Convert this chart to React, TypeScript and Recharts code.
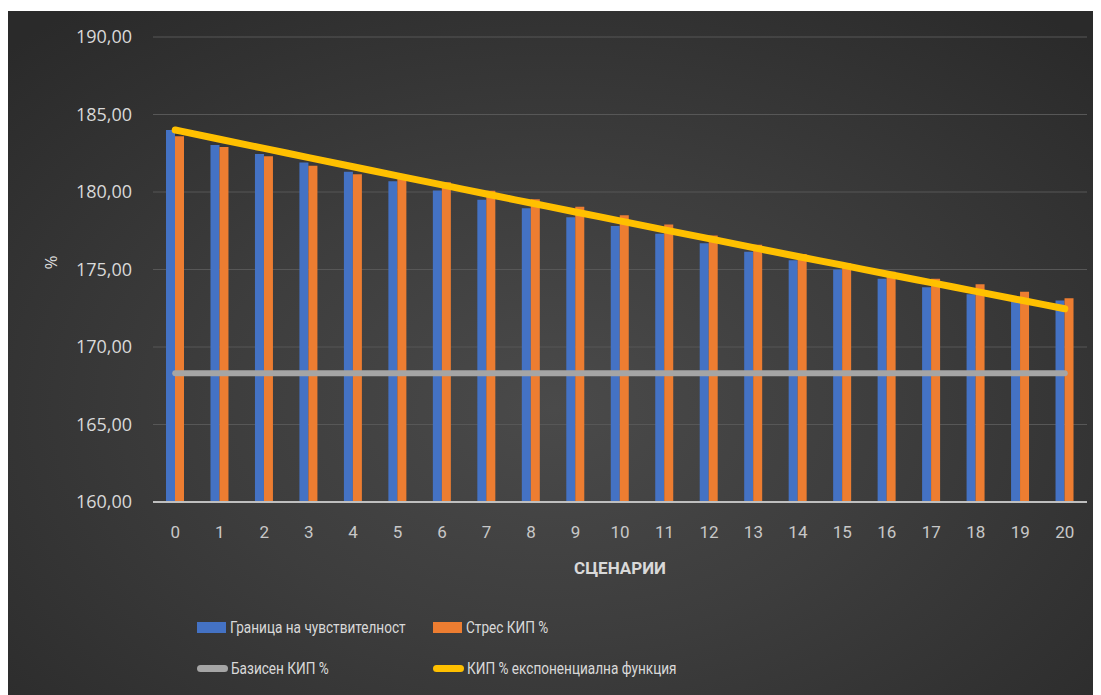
import { Bar, CartesianGrid, ComposedChart, Line, XAxis, YAxis } from "recharts";

const scenarios = [
  "0", "1", "2", "3", "4", "5", "6", "7", "8", "9", "10",
  "11", "12", "13", "14", "15", "16", "17", "18", "19", "20",
];

const sensitivity = [
  184.0, 183.03, 182.45, 181.9, 181.3, 180.7, 180.1, 179.5, 178.95, 178.37, 177.8,
  177.3, 176.7, 176.15, 175.6, 175.0, 174.4, 173.85, 173.4, 172.9, 173.0,
];

const stress = [
  183.6, 182.9, 182.3, 181.7, 181.15, 180.9, 180.63, 180.08, 179.53, 179.05, 178.5,
  177.9, 177.2, 176.6, 176.0, 175.4, 174.86, 174.4, 174.05, 173.57, 173.14,
];

const base = [
  168.3, 168.3, 168.3, 168.3, 168.3, 168.3, 168.3, 168.3, 168.3, 168.3, 168.3,
  168.3, 168.3, 168.3, 168.3, 168.3, 168.3, 168.3, 168.3, 168.3, 168.3,
];

const expFit = [
  184.0, 183.4, 182.81, 182.22, 181.63, 181.04, 180.46, 179.87, 179.29, 178.71, 178.14,
  177.56, 176.99, 176.41, 175.84, 175.28, 174.71, 174.15, 173.59, 173.03, 172.47,
];

const yTicks = [160, 165, 170, 175, 180, 185, 190];

const names = {
  sensitivity: "Граница на чувствителност",
  stress: "Стрес КИП %",
  base: "Базисен КИП %",
  expFit: "КИП % експоненциална функция",
};

const colors = {
  sensitivity: "#4472C4",
  stress: "#ED7D31",
  base: "#A5A5A5",
  expFit: "#FFC000",
};

const data = scenarios.map((s, i) => ({
  name: s,
  sensitivity: sensitivity[i],
  stress: stress[i],
  base: base[i],
  expFit: expFit[i],
}));

const font = "'Open Sans', sans-serif";
const roboto = "Roboto, sans-serif";

function LegendItem({ kind, color, label }: { kind: "bar" | "line"; color: string; label: string }) {
  return (
    <div style={{ display: "flex", alignItems: "center" }}>
      {kind === "bar" ? (
        <div style={{ width: 29, height: 11, background: color, marginRight: 4 }} />
      ) : (
        <div style={{ width: 31, height: 7, borderRadius: 4, background: color, marginRight: 3 }} />
      )}
      {/* Excel uses Calibri here, squeeze Roboto a bit to get close */}
      <span
        style={{
          display: "inline-block",
          color: "#d9d9d9",
          fontSize: 17,
          fontFamily: roboto,
          whiteSpace: "nowrap",
          transform: "scaleX(0.8)",
          transformOrigin: "left center",
        }}
      >
        {label}
      </span>
    </div>
  );
}

export default function App() {
  return (
    <div
      style={{
        position: "relative",
        width: 1093,
        height: 684,
        marginTop: 3,
        background:
          "radial-gradient(ellipse 70% 75% at 50% 58%, #4a4a4a 0%, #3d3d3d 45%, #2a2a2a 100%)",
      }}
    >
      <ComposedChart
        width={1093}
        height={684}
        data={data}
        margin={{ top: 26, right: 14, left: 0, bottom: 113 }}
        barGap={0}
      >
        <CartesianGrid vertical={false} stroke="#575757" strokeWidth={1} />
        <XAxis
          dataKey="name"
          height={80}
          tickLine={false}
          tickSize={0}
          tickMargin={24}
          axisLine={{ stroke: "#bfbfbf", strokeWidth: 2 }}
          tick={{ fill: "#c8c8c8", fontSize: 17, fontFamily: roboto }}
          interval={0}
          label={{
            value: "СЦЕНАРИИ",
            position: "insideTop",
            offset: 60,
            fill: "#d9d9d9",
            fontSize: 17,
            fontWeight: 700,
            fontFamily: roboto,
          }}
        />
        <YAxis
          width={145}
          domain={[160, 190]}
          ticks={yTicks}
          tickLine={false}
          tickSize={0}
          tickMargin={21}
          axisLine={false}
          tick={{ fill: "#d9d9d9", fontSize: 18, fontFamily: font }}
          tickFormatter={(v: number) => v.toFixed(2).replace(".", ",")}
          label={{
            value: "%",
            angle: -90,
            position: "insideLeft",
            offset: 43,
            fill: "#d9d9d9",
            fontSize: 17,
            fontFamily: font,
          }}
        />
        <Bar dataKey="sensitivity" name={names.sensitivity} fill={colors.sensitivity} barSize={9} isAnimationActive={false} />
        <Bar dataKey="stress" name={names.stress} fill={colors.stress} barSize={9} isAnimationActive={false} />
        <Line
          dataKey="base"
          name={names.base}
          stroke={colors.base}
          strokeWidth={6}
          strokeLinecap="round"
          dot={false}
          activeDot={false}
          isAnimationActive={false}
        />
        <Line
          dataKey="expFit"
          name={names.expFit}
          type="monotone"
          stroke={colors.expFit}
          strokeWidth={7}
          strokeLinecap="round"
          dot={false}
          activeDot={false}
          isAnimationActive={false}
        />
      </ComposedChart>
      <div style={{ position: "absolute", left: 189, top: 606 }}>
        <LegendItem kind="bar" color={colors.sensitivity} label={names.sensitivity} />
      </div>
      <div style={{ position: "absolute", left: 425, top: 606 }}>
        <LegendItem kind="bar" color={colors.stress} label={names.stress} />
      </div>
      <div style={{ position: "absolute", left: 189, top: 647 }}>
        <LegendItem kind="line" color={colors.base} label={names.base} />
      </div>
      <div style={{ position: "absolute", left: 425, top: 647 }}>
        <LegendItem kind="line" color={colors.expFit} label={names.expFit} />
      </div>
    </div>
  );
}
